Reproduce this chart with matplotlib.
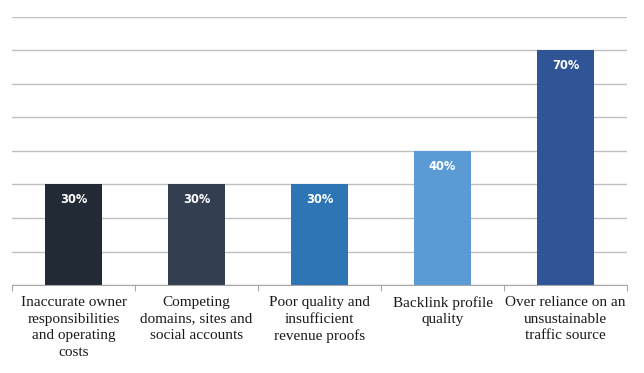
import matplotlib
matplotlib.use("Agg")
import matplotlib.pyplot as plt

categories = ["Inaccurate owner\nresponsibilities\nand operating\ncosts",
              "Competing\ndomains, sites and\nsocial accounts",
              "Poor quality and\ninsufficient\nrevenue proofs",
              "Backlink profile\nquality",
              "Over reliance on an\nunsustainable\ntraffic source"]
values = [30, 30, 30, 40, 70]
colors = ["#222a35", "#333f50", "#2e75b6", "#5b9bd5", "#2f5597"]

W, H = 644, 373
fig = plt.figure(figsize=(W/100, H/100), dpi=100)
ax = fig.add_axes([12/W, 1-285/H, (627-12)/W, (285-17)/H])

x = list(range(len(categories)))
bars = ax.bar(x, values, width=0.47, color=colors, zorder=3)
ax.set_xlim(-0.5, len(categories)-0.5)
ax.set_ylim(0, 80)
ax.set_yticks(range(0, 81, 10))
ax.yaxis.grid(True, color="#bfbfbf", linewidth=1, zorder=0)
ax.tick_params(axis="y", left=False, labelleft=False)
for s in ["top", "right", "left"]:
    ax.spines[s].set_visible(False)
ax.spines["bottom"].set_color("#a6a6a6")
ax.spines["bottom"].set_zorder(4)

ax.set_xticks([i + 0.5 for i in range(-1, len(categories))], minor=False)
ax.set_xticklabels([])
ax.tick_params(axis="x", length=4, color="#a6a6a6", direction="out")
for i, c in enumerate(categories):
    ax.text(i, -3.3, c, ha="center", va="top", fontsize=11,
            family="Liberation Serif", color="#1a1a1a", linespacing=1.36)

for i, v in enumerate(values):
    ax.text(i, v - 4.6, f"{v}%", ha="center", va="center", color="white",
            fontsize=8.3, fontweight="bold", family="DejaVu Sans", zorder=5)

fig.savefig("out.png", dpi=100)
